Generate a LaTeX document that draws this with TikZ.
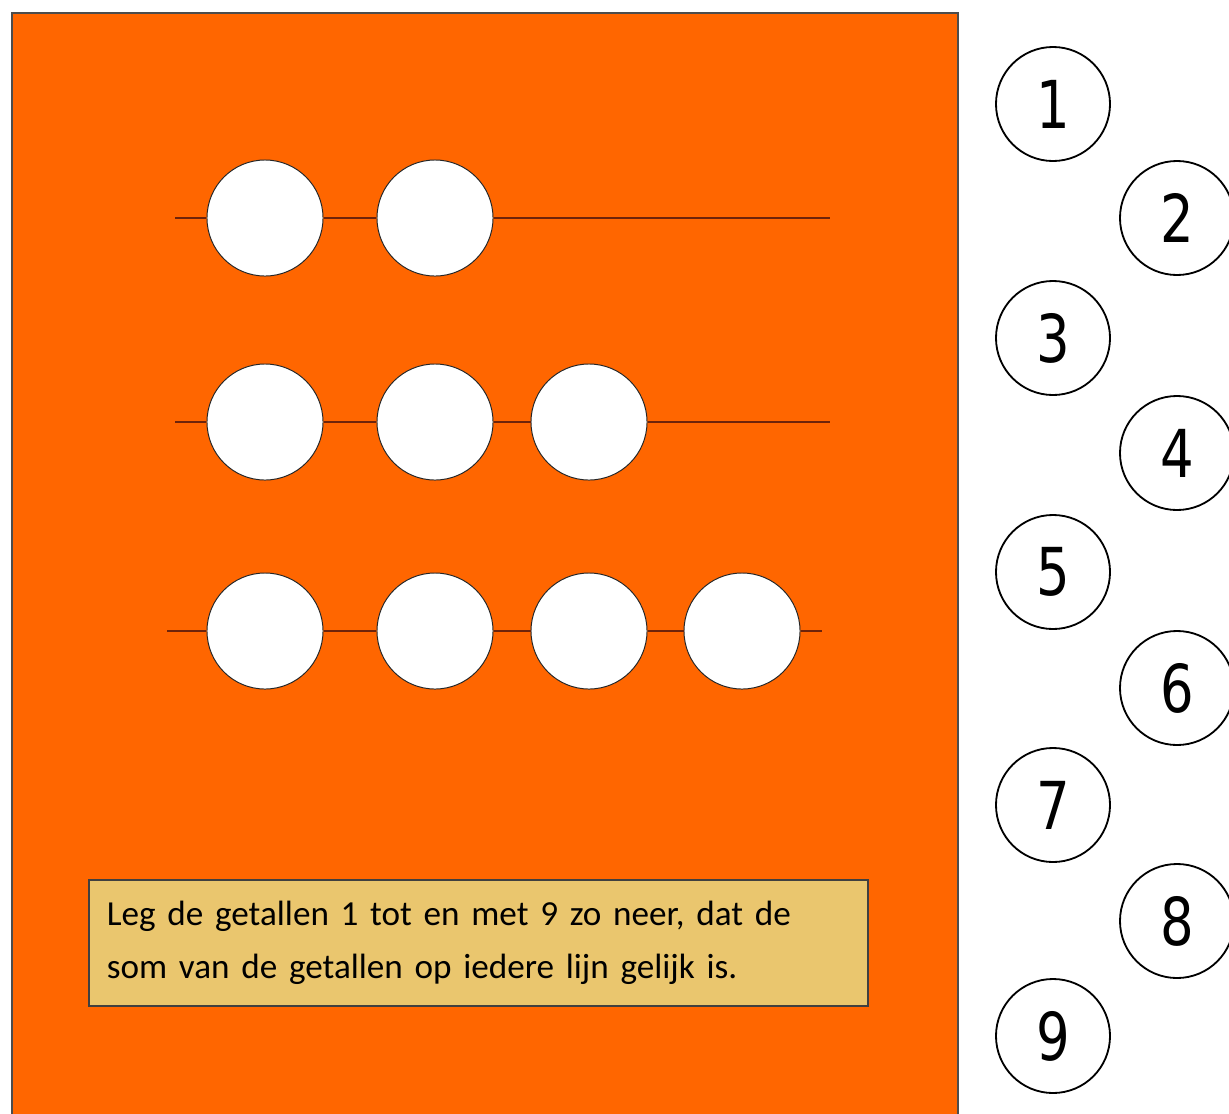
\documentclass[tikz,border=0pt]{standalone}
\usepackage{fontspec}
\setmainfont{Carlito}
\newfontfamily\digitfont[FakeStretch=0.8]{DejaVu Sans}
\usetikzlibrary{positioning}
\definecolor{bordeoranje}{RGB}{255,102,0}
\definecolor{draadbruin}{RGB}{110,35,10}
\definecolor{kaartgeel}{RGB}{234,198,110}

\tikzset{
    kraal/.style={circle, draw=black!85, line width=0.7pt, fill=white, minimum size=2.9cm, inner sep=0pt},
    getal/.style={circle, draw=black, line width=1.3pt, fill=white, minimum size=2.85cm, inner sep=0pt, font=\digitfont\fontsize{47pt}{47pt}\selectfont},
    draad/.style={draadbruin, line width=1.4pt}
}

\begin{document}
\begin{tikzpicture}[x=0.025cm, y=-0.025cm]
        \clip (0,0) rectangle (1229,1113);
        \fill[white] (0,0) rectangle (1229,1113);
        \draw[fill=bordeoranje, draw=black!70, line width=1.2pt] (12,13) rectangle (958,1140);

        % bovenste lijn
        \coordinate (r1s) at (175,218);
        \coordinate (r1e) at (830,218);
        \node[kraal] (k11) at (265,218) {};
        \node[kraal] (k12) at (435,218) {};
        \draw[draad] (r1s) -- (k11) (k11) -- (k12) (k12) -- (r1e);

        % middelste lijn
        \coordinate (r2s) at (175,422);
        \coordinate (r2e) at (830,422);
        \node[kraal] (k21) at (265,422) {};
        \node[kraal] (k22) at (435,422) {};
        \node[kraal] (k23) at (589,422) {};
        \draw[draad] (r2s) -- (k21) (k21) -- (k22) (k22) -- (k23) (k23) -- (r2e);

        % onderste lijn
        \coordinate (r3s) at (167,631);
        \coordinate (r3e) at (822,631);
        \node[kraal] (k31) at (265,631) {};
        \node[kraal] (k32) at (435,631) {};
        \node[kraal] (k33) at (589,631) {};
        \node[kraal] (k34) at (742,631) {};
        \draw[draad] (r3s) -- (k31) (k31) -- (k32) (k32) -- (k33) (k33) -- (k34) (k34) -- (r3e);

        \node[draw=black!75, line width=1pt, fill=kaartgeel, minimum width=19.475cm, minimum height=3.15cm,
              text width=18.575cm, align=left, inner xsep=0.45cm,
              font=\fontsize{25pt}{37.6pt}\selectfont] (opdracht) at (478.5,943)
            {Leg de getallen 1 tot en met 9 zo neer, dat de\\som van de getallen op iedere lijn gelijk is.};

        % losse getallen
        \foreach \n/\x/\y in {1/1053/104, 2/1177/218, 3/1053/338, 4/1177/453, 5/1053/572,
                              6/1177/688, 7/1053/805, 8/1177/921, 9/1053/1036}
            \node[getal] (g\n) at (\x,\y) {\n};
    \end{tikzpicture}
\end{document}
